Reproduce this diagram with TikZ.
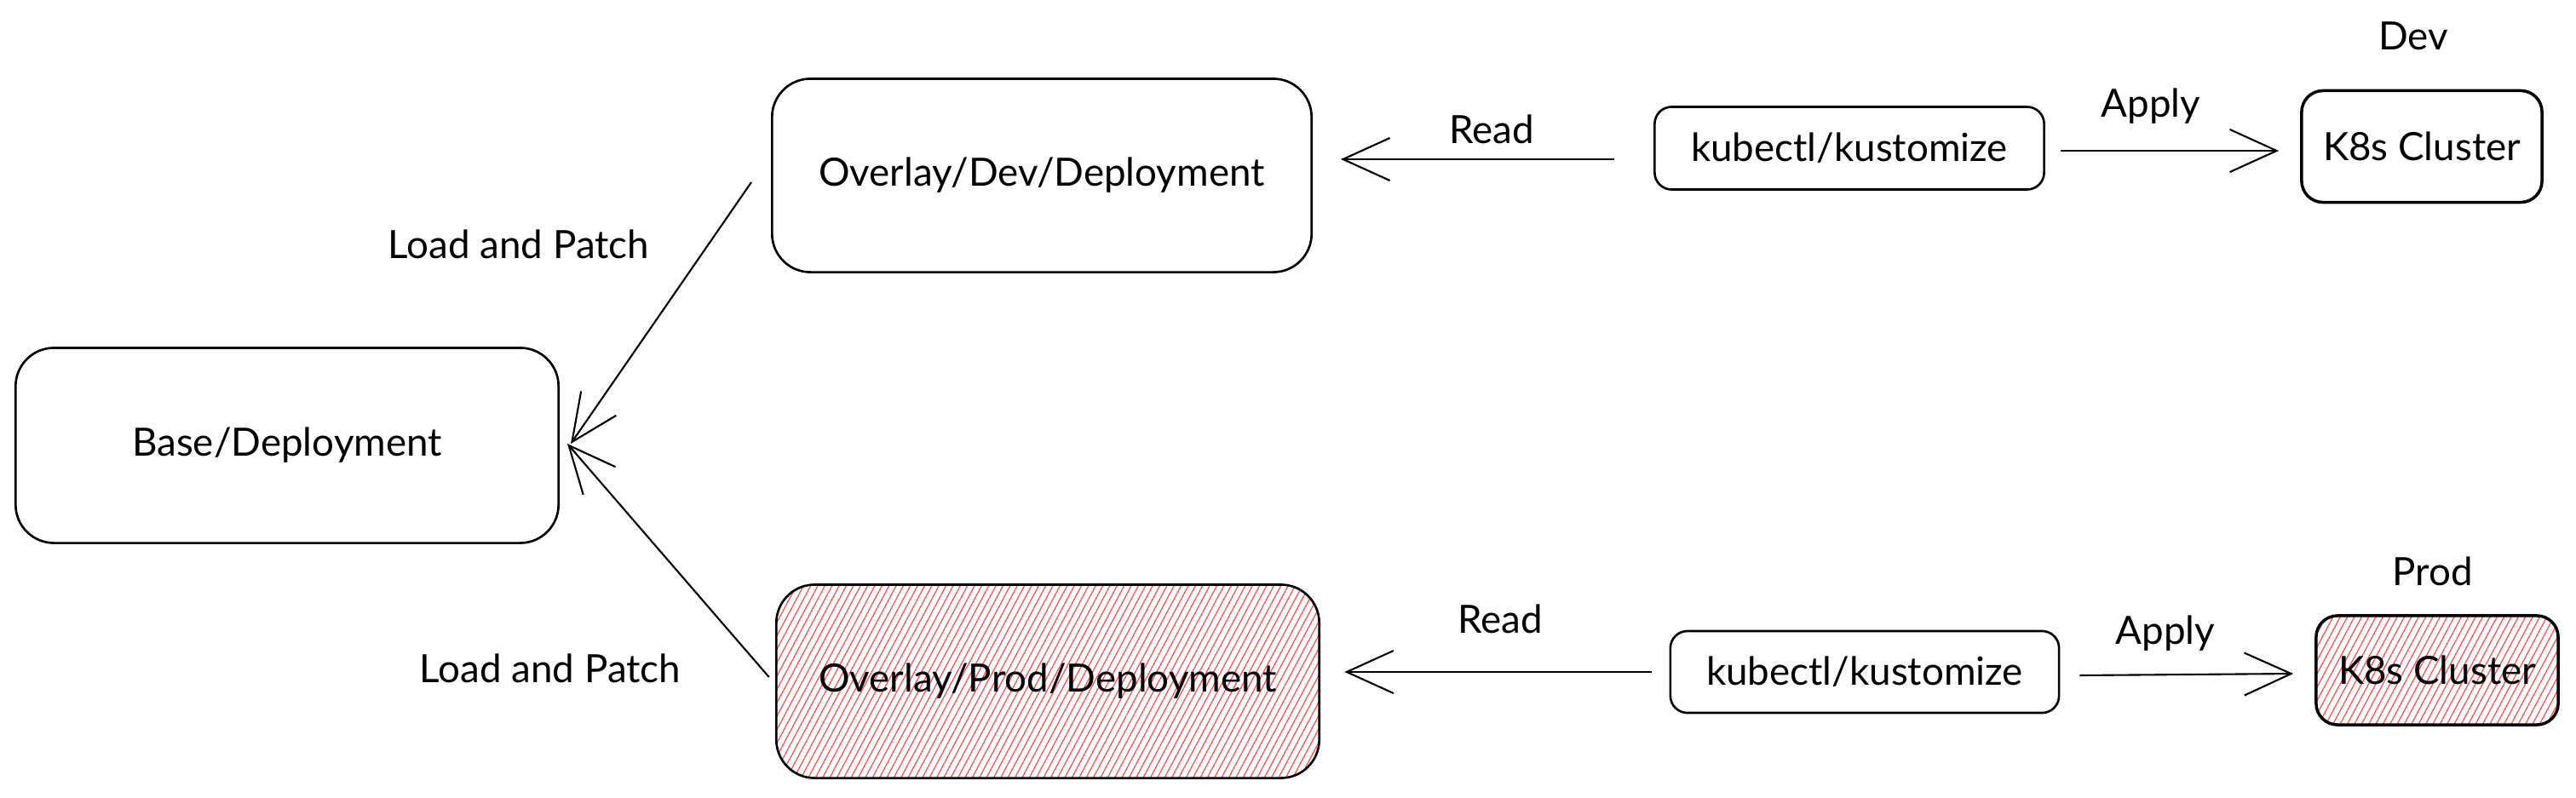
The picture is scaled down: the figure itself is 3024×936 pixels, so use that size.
\documentclass[tikz,border=0pt]{standalone}
\usepackage{fontspec}
\setmainfont{Lato}
\usetikzlibrary{arrows.meta,patterns.meta}
\begin{document}
\begin{tikzpicture}[x=0.01cm,y=-0.01cm,
  every node/.style={font=\fontsize{13}{15}\selectfont},
  bigbox/.style={draw, line width=0.75pt, rounded corners=0.45cm, inner sep=0pt},
  smallbox/.style={draw, line width=0.75pt, rounded corners=0.2cm, inner sep=0pt},
  hatched/.style={pattern={Lines[angle=62,distance=2.1pt,line width=0.35pt]}, pattern color=red!70},
  arr/.style={line width=0.6pt, -{Straight Barb[length=0.55cm,width=0.5cm,line width=0.6pt]}},
  lbl/.style={inner sep=0pt}
]
\useasboundingbox (0,0) rectangle (3024,936);
% boxes
\node[bigbox, minimum width=6.37cm, minimum height=2.29cm] (base) at (337,523) {Base/Deployment};
\node[bigbox, minimum width=6.33cm, minimum height=2.27cm] (odev) at (1223,206) {Overlay/Dev/Deployment};
\node[bigbox, hatched, minimum width=6.37cm, minimum height=2.27cm] (oprod) at (1230,800) {Overlay/Prod/Deployment};
\node[smallbox, minimum width=4.57cm, minimum height=0.97cm] (kdev) at (2171,174) {kubectl/kustomize};
\node[smallbox, minimum width=4.56cm, minimum height=0.96cm] (kprod) at (2189,789) {kubectl/kustomize};
\node[smallbox, line width=1pt, rounded corners=0.25cm, minimum width=2.82cm, minimum height=1.31cm] (cdev) at (2843,172) {K8s Cluster};
\node[smallbox, hatched, line width=1pt, rounded corners=0.25cm, minimum width=2.84cm, minimum height=1.28cm] (cprod) at (2861,787) {K8s Cluster};
% labels
\node[lbl] (ldev) at (2833,42) {Dev};
\node[lbl] (lprod) at (2856,671) {Prod};
\node[lbl] (apdev) at (2525,125) {Apply};
\node[lbl] (approd) at (2542,744) {Apply};
\node[lbl] (rddev) at (1751,152) {Read};
\node[lbl] (rdprod) at (1761,727) {Read};
\node[lbl] (lpdev) at (609,287) {Load and Patch};
\node[lbl] (lpprod) at (646,785) {Load and Patch};
% connectors
\draw[arr] ([shift={(-46,13)}]kdev.west) -- ([shift={(33,-19)}]odev.east);
\draw[arr] ([shift={(-21,0)}]kprod.west) -- ([shift={(29,-11)}]oprod.east);
\draw[arr] ([shift={(18,3)}]kdev.east) -- ([shift={(-25,5)}]cdev.west);
\draw[arr] ([shift={(23,4)}]kprod.east) -- ([shift={(-25,4)}]cprod.west);
\draw[arr] ([shift={(-23,8)}]odev.west) -- ([shift={(13,-2)}]base.east);
\draw[arr] ([shift={(-8,-5)}]oprod.west) -- ([shift={(9,-2)}]base.east);
\end{tikzpicture}
\end{document}
